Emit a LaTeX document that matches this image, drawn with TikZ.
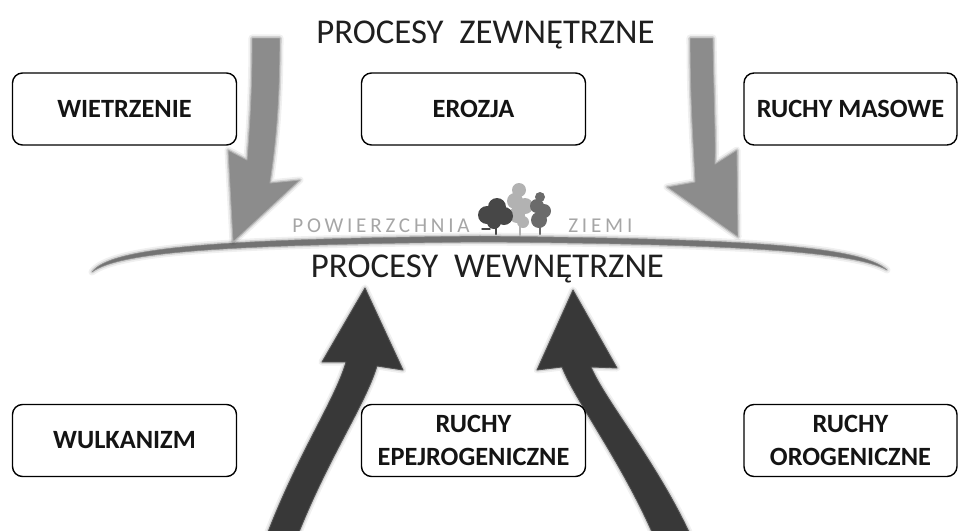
\documentclass[tikz,border=0pt]{standalone}
\usepackage{fontspec}
\setmainfont{Carlito}
\newfontfamily\spacedfont[LetterSpace=18]{Carlito}
\usetikzlibrary{
    positioning,
    shadows
}
\tikzset{
  box/.style = {
      draw,
      rounded corners=2mm,
      line width=0.8pt,
      fill=white,
      minimum width=44.8mm,
      minimum height=14.4mm,
      align=center,
      font=\fontsize{15}{18.5}\selectfont\bfseries,
      text=black!92
  },
  title/.style = {
      font=\fontsize{19.8}{23}\selectfont,
      text=black!88,
      inner sep=0pt
  },
  ground/.style = {
      font=\spacedfont\fontsize{12}{14}\selectfont,
      text=black!35,
      inner sep=0pt
  },
  glow/.style = {
      preaction={draw=black, line width=4pt, opacity=0.06, line join=round},
      preaction={draw=black, line width=2pt, opacity=0.12, line join=round}
  },
  extarrow/.style = {
      glow,
      fill=black!45,
      draw=black!32,
      line width=0.5pt,
      line join=round
  },
  intarrow/.style = {
      glow,
      fill=black!78,
      draw=black!68,
      line width=0.5pt,
      line join=round
  },
  surface/.style = {
      glow,
      fill=black!55,
      draw=black!45,
      line width=0.3pt,
      line join=round
  },
  tree/.style = {
      line width=1.2pt,
      line cap=round
  }
}

\begin{document}
\begin{tikzpicture}[x=0.2mm, y=-0.2mm]
    \useasboundingbox (0,0) rectangle (959,530);
    % Surface
    \path[surface] (92,272) .. controls (110,247) and (220,239) .. (480,236)
        .. controls (740,239) and (860,245) .. (887,270)
        .. controls (855,252) and (740,244) .. (480,242)
        .. controls (220,245) and (120,252) .. (92,272) -- cycle;
    % Trees
    \fill[black!30] (519,190) circle (7) (515,201) circle (8) (525,206) circle (8)
        (517,215) circle (8) (523,222) circle (6);
    \draw[tree, black!30] (520,215) -- (520,235);
    \fill[black!72] (487,215) circle (9) (497,207) circle (9) (504,216) circle (9)
        (494,222) circle (7);
    \draw[tree, black!72] (496,218) -- (496,234);
    \draw[tree, black!72, line width=0.8pt] (482,229) -- (490,229);
    \fill[black!58] (540,197) circle (5) (537,206) circle (7) (544,211) circle (7)
        (539,220) circle (8);
    \draw[tree, black!58] (540,215) -- (540,234);
    % Arrows
    \path[extarrow] (252,38) -- (280,38) .. controls (280,110) and (275,150) .. (270,183)
        -- (300,180) -- (233,242) -- (228,150) -- (247,160)
        .. controls (250,120) and (252,90) .. (252,38) -- cycle;
    \path[extarrow] (690,38) -- (713,38) .. controls (714,100) and (716,140) .. (715,164)
        -- (737,150) -- (738,237) -- (667,187) -- (695,182)
        .. controls (693,140) and (690,100) .. (690,38) -- cycle;
    \path[intarrow] (268,532) .. controls (300,450) and (335,400) .. (346,362)
        -- (322,362) -- (365,288) -- (403,370) -- (377,366)
        .. controls (365,405) and (330,455) .. (299,532) -- cycle;
    \path[intarrow] (652,532) .. controls (620,460) and (575,400) .. (562,367)
        -- (537,370) -- (573,290) -- (617,368) -- (591,367)
        .. controls (605,400) and (655,460) .. (689,532) -- cycle;
    % Texts
    \node[title, anchor=base] (zewn) at (485.5,43) {PROCESY\ \ ZEWNĘTRZNE};
    \node[title, anchor=base] (wewn) at (487.5,277) {PROCESY\ \ WEWNĘTRZNE};
    \node[ground, anchor=base west] (pow) at (292,232) {POWIERZCHNIA};
    \node[ground, anchor=base west] (ziemi) at (568,232) {ZIEMI};
    % Boxes
    \node[box] (wietrz) at (124.5,109) {WIETRZENIE};
    \node[box] (erozja) at (473.5,109) {EROZJA};
    \node[box, minimum width=42.6mm] (masowe) at (850.5,109) {RUCHY MASOWE};
    \node[box] (wulk) at (124.5,440.5) {WULKANIZM};
    \node[box] (epejro) at (473.5,440.5) {RUCHY\\EPEJROGENICZNE};
    \node[box, minimum width=42.6mm] (orogen) at (850.5,440.5) {RUCHY\\OROGENICZNE};
\end{tikzpicture}
\end{document}
